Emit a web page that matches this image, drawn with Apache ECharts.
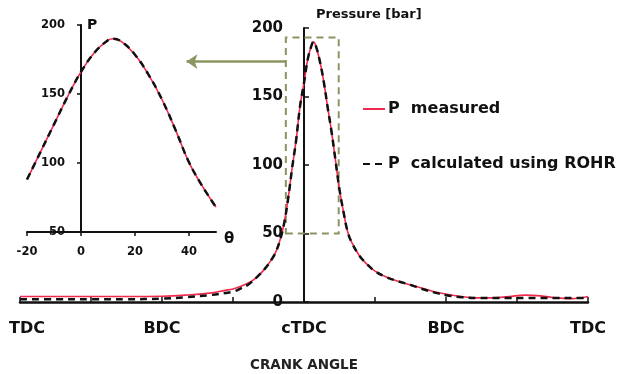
<!DOCTYPE html>
<html>
<head>
<meta charset="utf-8">
<script src="https://cdn.jsdelivr.net/npm/echarts@6/dist/echarts.min.js"></script>
<style>
  html, body { margin: 0; padding: 0; background: #fff; }
  #main { width: 619px; height: 374px; }
</style>
</head>
<body>
<div id="main"></div>
<script>
// crank angle (deg), cTDC = 0
const crankAngle = [-360, -315, -270, -225, -180, -150, -120, -100, -90, -80, -70, -60, -50, -40, -35, -30, -25, -20, -15, -10, -5, 0, 5, 10, 12, 15, 20, 25, 30, 35, 40, 45, 50, 55, 60, 70, 80, 90, 105, 120, 135, 150, 165, 180, 200, 220, 240, 260, 280, 300, 320, 340, 360];
const pMeasured = [4, 4, 4, 4, 4.2, 5, 6.5, 8.5, 9.5, 11.5, 14, 18, 24, 32, 37.5, 46, 58, 76, 98, 118, 143, 160, 178, 188, 190, 187, 176, 161, 142, 124, 103, 82, 66, 52, 44, 34, 27.5, 22.5, 18, 15, 12.5, 10, 7.5, 5.8, 4, 3, 3, 4, 5, 4.5, 3, 2.5, 4];
const pCalculated = [2, 2, 2, 2, 2.5, 3.5, 5, 6.5, 7.5, 10, 13, 18, 24, 32, 37.5, 46, 58, 76, 98, 118, 143, 160, 178, 188, 190, 187, 176, 161, 142, 124, 103, 82, 66, 52, 44, 34, 27.5, 22.5, 18, 15, 12.5, 9.5, 7, 5, 3.5, 3, 3, 3, 3, 3, 3, 3, 3];

// zoomed view around combustion
const theta = [-20, -15, -10, -5, 0, 5, 10, 12, 15, 20, 25, 30, 35, 40, 45, 50];
const insetMeasured = [88, 108, 128, 148, 166, 180, 189, 190, 188, 178.5, 164, 146, 124, 100.5, 83, 68];
const insetCalculated = [88, 108, 128, 148, 166, 180, 189, 190, 188, 178.5, 164, 146, 124, 100.5, 83, 68];

const angleLabels = { '-360': 'TDC', '-180': 'BDC', '0': 'cTDC', '180': 'BDC', '360': 'TDC' };

// dashed box marking the zoomed window, and the arrow pointing to the inset
const zoomBox = [[-23, 50], [44, 193]];
const arrowLine = [[-24, 175.5], [-149, 175.5]];

const RED = '#f2294e';
const OLIVE = '#8a9660';
const FONT = 'DejaVu Sans';
const INK = '#111';

const zip = (xs, ys) => xs.map((x, i) => [x, ys[i]]);

const chart = echarts.init(document.getElementById('main'));

chart.setOption({
  animation: false,
  backgroundColor: '#fff',
  textStyle: { fontFamily: FONT },
  legend: {
    data: ['P  measured', 'P  calculated using ROHR'],
    orient: 'vertical',
    left: 362,
    top: 101,
    padding: 0,
    itemGap: 39,
    itemWidth: 22,
    itemHeight: 14,
    itemStyle: { opacity: 0 },
    textStyle: { fontFamily: FONT, fontWeight: 'bold', fontSize: 16, color: INK, padding: [0, 0, 0, -2] }
  },
  grid: [
    // main chart
    { left: 20, right: 31, top: 28, bottom: 72, outerBoundsMode: 'none' },
    // inset
    { left: 27, right: 403, top: 25, bottom: 142, outerBoundsMode: 'none' },
    // main pressure axis sits at cTDC
    { left: 304, right: 31, top: 28, bottom: 72, outerBoundsMode: 'none' },
    // inset pressure axis sits at theta = 0
    { left: 81, right: 403, top: 25, bottom: 142, outerBoundsMode: 'none' }
  ],
  xAxis: [
    {
      type: 'value', gridIndex: 0,
      min: -360, max: 360, interval: 90,
      splitLine: { show: false },
      axisLine: { onZero: false, lineStyle: { color: INK, width: 2.5 } },
      axisTick: { inside: true, length: 5, lineStyle: { color: INK, width: 1.5 } },
      axisLabel: {
        margin: 19, color: INK, fontFamily: FONT, fontWeight: 'bold', fontSize: 16,
        formatter: v => v === -360 ? '{first|TDC}' : (angleLabels[String(v)] || ''),
        rich: { first: { fontFamily: FONT, fontWeight: 'bold', fontSize: 16, color: INK, padding: [0, 0, 0, 14] } }
      },
      name: 'CRANK ANGLE', nameLocation: 'middle', nameGap: 56,
      nameTextStyle: { color: '#222', fontFamily: FONT, fontWeight: 'bold', fontSize: 13.5 }
    },
    {
      type: 'value', gridIndex: 1,
      min: -20, max: 50, interval: 20,
      splitLine: { show: false },
      axisLine: { onZero: false, lineStyle: { color: INK, width: 2 } },
      axisTick: { length: 4, lineStyle: { color: INK, width: 1.5 } },
      axisLabel: { margin: 14, color: INK, fontFamily: FONT, fontWeight: 'bold', fontSize: 11.5, showMaxLabel: false },
      name: 'θ', nameLocation: 'end', nameGap: 8,
      nameTextStyle: { color: INK, fontFamily: FONT, fontWeight: 'bold', fontSize: 15, verticalAlign: 'top' }
    },
    { type: 'value', gridIndex: 2, min: 0, max: 360, show: false },
    { type: 'value', gridIndex: 3, min: 0, max: 50, show: false }
  ],
  yAxis: [
    { type: 'value', gridIndex: 0, min: 0, max: 200, show: false },
    { type: 'value', gridIndex: 1, min: 50, max: 200, show: false },
    {
      type: 'value', gridIndex: 2,
      min: 0, max: 200, interval: 50,
      splitLine: { show: false },
      axisLine: { show: true, onZero: false, lineStyle: { color: INK, width: 2 } },
      axisTick: { show: true, inside: true, length: 5, lineStyle: { color: INK, width: 1.5 } },
      axisLabel: { margin: 21, color: INK, fontFamily: FONT, fontWeight: 'bold', fontSize: 15 },
      name: 'Pressure [bar]', nameLocation: 'end', nameGap: 13,
      nameTextStyle: { color: INK, fontFamily: FONT, fontWeight: 'bold', fontSize: 13, align: 'left', verticalAlign: 'middle', padding: [0, 0, 0, 12] }
    },
    {
      type: 'value', gridIndex: 3,
      min: 50, max: 200, interval: 50,
      splitLine: { show: false },
      axisLine: { show: true, onZero: false, lineStyle: { color: INK, width: 2 } },
      axisTick: { show: true, length: 4, lineStyle: { color: INK, width: 1.5 } },
      axisLabel: { margin: 16, color: INK, fontFamily: FONT, fontWeight: 'bold', fontSize: 11.5 },
      name: 'P', nameLocation: 'end', nameGap: 0,
      nameTextStyle: { color: INK, fontFamily: FONT, fontWeight: 'bold', fontSize: 14, align: 'left', verticalAlign: 'middle', padding: [0, 0, 0, 6] }
    }
  ],
  series: [
    {
      name: 'P  measured', type: 'line', xAxisIndex: 0, yAxisIndex: 0,
      data: zip(crankAngle, pMeasured), smooth: 0.4, symbol: 'none',
      lineStyle: { color: RED, width: 1.6 }, itemStyle: { color: RED },
      markArea: {
        silent: true,
        itemStyle: { color: 'rgba(0,0,0,0)', borderColor: OLIVE, borderWidth: 2, borderType: [7, 5] },
        data: [[{ coord: zoomBox[0] }, { coord: zoomBox[1] }]]
      },
      markLine: {
        silent: true, symbol: ['none', 'arrow'], symbolSize: [11, 11],
        label: { show: false },
        lineStyle: { color: OLIVE, width: 2.5, type: 'solid' },
        data: [[{ coord: arrowLine[0] }, { coord: arrowLine[1] }]]
      }
    },
    {
      name: 'P  calculated using ROHR', type: 'line', xAxisIndex: 0, yAxisIndex: 0,
      data: zip(crankAngle, pCalculated), smooth: 0.4, symbol: 'none', z: 3,
      lineStyle: { color: INK, width: 2.5, type: [7, 5] }, itemStyle: { color: INK }
    },
    {
      name: 'P  measured', type: 'line', xAxisIndex: 1, yAxisIndex: 1,
      data: zip(theta, insetMeasured), smooth: 0.4, symbol: 'none',
      lineStyle: { color: RED, width: 1.6 }, itemStyle: { color: RED }
    },
    {
      name: 'P  calculated using ROHR', type: 'line', xAxisIndex: 1, yAxisIndex: 1,
      data: zip(theta, insetCalculated), smooth: 0.4, symbol: 'none', z: 3,
      lineStyle: { color: INK, width: 2.5, type: [7, 5] }, itemStyle: { color: INK }
    }
  ]
});
</script>
</body>
</html>
